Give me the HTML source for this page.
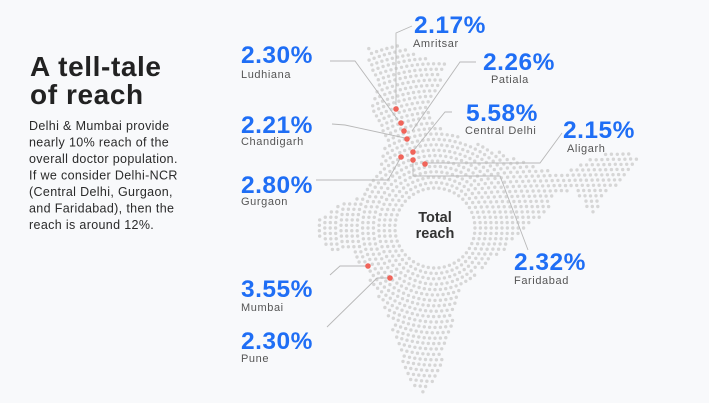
<!DOCTYPE html>
<html><head><meta charset="utf-8"><style>
html,body{margin:0;padding:0;background:#f8f9fb;}
body{width:709px;height:403px;overflow:hidden;position:relative;font-family:"Liberation Sans",sans-serif;}
svg{position:absolute;left:0;top:0}
</style></head><body>
<svg id="s" width="709" height="403" xmlns="http://www.w3.org/2000/svg">
<g id="dots"></g>
<g fill="none" stroke="#b8b8b8" stroke-width="0.9">
<polyline points="330,61 355,61 398,120"/>
<polyline points="412,26 396,33 396,105"/>
<polyline points="476,62 460,62 412,131"/>
<polyline points="332,124 345,125 405,138"/>
<polyline points="452,112 445,112 414,150"/>
<polyline points="562,133 540,163 425,163"/>
<polyline points="316,180 388,180 401,157"/>
<polyline points="413,160 413,176 500,176 528,250"/>
<polyline points="330,275 340,266 368,266"/>
<polyline points="327,327 377,278 390,278"/>
</g>
<g fill="#f0645a">
<circle cx="396" cy="109" r="2.8"/><circle cx="401" cy="123" r="2.8"/><circle cx="404" cy="131" r="2.8"/><circle cx="407" cy="139" r="2.8"/>
<circle cx="401" cy="157" r="2.8"/><circle cx="413" cy="152" r="2.8"/><circle cx="413" cy="160" r="2.8"/><circle cx="425" cy="164" r="2.8"/>
<circle cx="368" cy="266" r="2.8"/><circle cx="390" cy="278" r="2.8"/>
</g>
<g font-family="Liberation Sans, sans-serif" font-weight="bold" fill="#333" font-size="14.5" text-anchor="middle">
<text x="435" y="222">Total</text><text x="435" y="238">reach</text>
</g>
<g font-family="Liberation Sans, sans-serif">
<text x="30" y="76" font-size="28" font-weight="bold" fill="#222" letter-spacing="0.6">A tell-tale</text>
<text x="30" y="104" font-size="28" font-weight="bold" fill="#222" letter-spacing="0.6">of reach</text>
<g font-size="12.5" fill="#2a2a2a" letter-spacing="0.35">
<text x="29" y="130">Delhi &amp; Mumbai provide</text>
<text x="29" y="146.5">nearly 10% reach of the</text>
<text x="29" y="163">overall doctor population.</text>
<text x="29" y="179.5">If we consider Delhi-NCR</text>
<text x="29" y="196">(Central Delhi, Gurgaon,</text>
<text x="29" y="212.5">and Faridabad), then the</text>
<text x="29" y="229">reach is around 12%.</text>
</g>
<g font-size="24.5" font-weight="bold" fill="#1f6ef5" letter-spacing="0.5">
<text x="241" y="63">2.30%</text>
<text x="414" y="33">2.17%</text>
<text x="483" y="70">2.26%</text>
<text x="241" y="133">2.21%</text>
<text x="466" y="121">5.58%</text>
<text x="563" y="138">2.15%</text>
<text x="241" y="193">2.80%</text>
<text x="514" y="270">2.32%</text>
<text x="241" y="297">3.55%</text>
<text x="241" y="349">2.30%</text>
</g>
<g font-size="11" fill="#555" letter-spacing="0.6">
<text x="241" y="78">Ludhiana</text>
<text x="413" y="47">Amritsar</text>
<text x="491" y="83">Patiala</text>
<text x="241" y="145">Chandigarh</text>
<text x="465" y="134">Central Delhi</text>
<text x="567" y="152">Aligarh</text>
<text x="241" y="205">Gurgaon</text>
<text x="514" y="284">Faridabad</text>
<text x="241" y="311">Mumbai</text>
<text x="241" y="362">Pune</text>
</g>
</g>
</svg>
<script>
var P=[[368,48],[395,44],[415,55],[445,62],[440,90],[428,110],[440,128],[465,140],[495,150],[520,160],[540,168],[560,175],[575,165],[600,155],[625,150],[640,160],[625,180],[605,195],[595,215],[585,205],[575,190],[555,195],[545,215],[530,225],[510,245],[485,265],[465,285],[455,310],[448,340],[440,370],[425,393],[410,385],[400,355],[390,320],[375,290],[365,270],[350,252],[330,250],[318,235],[320,215],[340,205],[360,195],[378,170],[385,150],[382,130],[372,110],[375,85],[368,65]];
function inside(x,y){var c=false;for(var i=0,j=P.length-1;i<P.length;j=i++){var a=P[i],b=P[j];if(((a[1]>y)!=(b[1]>y))&&(x<(b[0]-a[0])*(y-a[1])/(b[1]-a[1])+a[0]))c=!c;}return c;}
var cx=435,cy=228,h='';
for(var r=40;r<260;r+=5.4){var n=Math.round(2*Math.PI*r/5.4);for(var k=0;k<n;k++){var t=2*Math.PI*k/n;var x=cx+r*Math.cos(t),y=cy+r*Math.sin(t);if(inside(x,y))h+='<circle cx="'+x.toFixed(1)+'" cy="'+y.toFixed(1)+'" r="1.7"/>';}}
var g=document.getElementById('dots');g.setAttribute('fill','#d6d6d6');g.innerHTML=h;
</script>
</body></html>
